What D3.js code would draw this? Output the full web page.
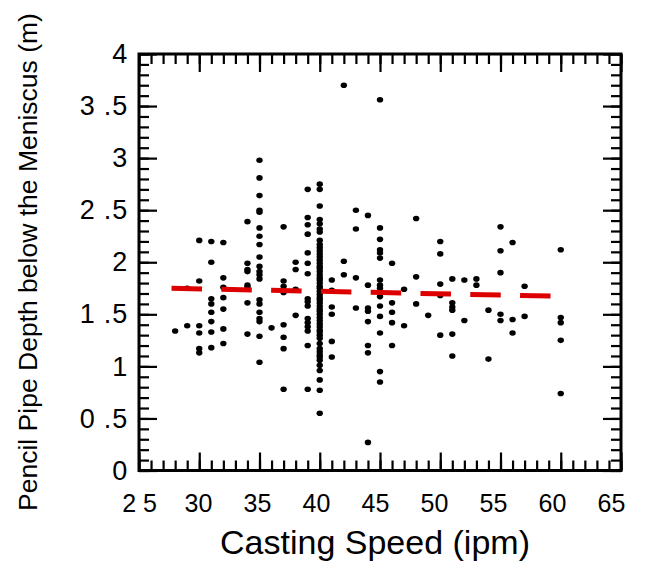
<!DOCTYPE html>
<html>
<head>
<meta charset="utf-8">
<script src="https://cdn.jsdelivr.net/npm/d3@7"></script>
<style>
  body { margin: 0; background: #fff; }
  svg { display: block; font-family: "Liberation Sans", Arial, sans-serif; }
</style>
</head>
<body>
<div class="chart"></div>
<script>
// casting speed (ipm) for each column of points
const speedLevels = [28, 29, 30, 31, 32, 34, 35, 36, 37, 38, 39, 40, 41, 42, 43, 44, 45, 46, 47, 48, 49, 50, 51, 52, 53, 54, 55, 56, 57, 60];

// pencil pipe depth (m) measured at each speed
const depthsBySpeed = [
    [1.34],
    [1.75, 1.39],
    [2.21, 1.82, 1.39, 1.32, 1.17, 1.13],
    [2.20, 2.00, 1.65, 1.60, 1.52, 1.43, 1.33, 1.18],
    [2.19, 1.85, 1.76, 1.66, 1.55, 1.36, 1.22],
    [2.39, 1.99, 1.93, 1.91, 1.78, 1.76, 1.61, 1.31],
    [2.98, 2.81, 2.64, 2.50, 2.48, 2.33, 2.25, 2.17, 2.05, 1.96, 1.91, 1.88, 1.84, 1.64, 1.60, 1.52, 1.46, 1.43, 1.29, 1.04],
    [1.37],
    [2.34, 1.82, 1.77, 1.71, 1.40, 1.28, 1.17, 0.78],
    [2.00, 1.93, 1.74, 1.49],
    [2.70, 2.43, 2.36, 2.27, 2.09, 1.99, 1.89, 1.65, 1.62, 1.58, 1.46, 1.42, 1.38, 1.34, 1.20, 0.78],
    [2.75, 2.70, 2.54, 2.41, 2.37, 2.32, 2.29, 2.21, 2.17, 2.14, 2.11, 2.08, 2.05, 2.02, 1.99, 1.96, 1.94, 1.91, 1.88, 1.85,
     1.83, 1.80, 1.77, 1.75, 1.72, 1.69, 1.66, 1.64, 1.61, 1.58, 1.55, 1.53, 1.50, 1.47, 1.44, 1.41, 1.38, 1.35, 1.33, 1.30,
     1.27, 1.22, 1.17, 1.14, 1.11, 1.09, 1.06, 1.01, 0.96, 0.87, 0.77, 0.55],
    [1.83, 1.73, 1.57, 1.50, 1.24, 1.09],
    [3.70, 2.01, 1.88],
    [2.50, 2.32, 1.85, 1.56],
    [2.45, 1.78, 1.56, 1.53, 1.43, 1.20, 1.13, 0.27],
    [3.56, 2.33, 2.22, 2.12, 2.09, 2.04, 1.83, 1.78, 1.75, 1.67, 1.58, 1.48, 1.32, 0.95, 0.85],
    [1.99, 1.61, 1.52, 1.42, 1.20],
    [1.74, 1.39],
    [2.42, 1.86, 1.60],
    [1.49],
    [2.20, 2.08, 1.79, 1.68, 1.30],
    [1.84, 1.61, 1.57, 1.54, 1.31, 1.10],
    [1.83, 1.44],
    [1.84, 1.78],
    [1.54, 1.07],
    [2.34, 2.11, 1.90, 1.50, 1.44],
    [2.19, 1.45, 1.32],
    [1.77, 1.48],
    [2.12, 1.47, 1.42, 1.25, 0.74]
];

// fitted trend line end points
const trendSpeed = [27.7, 59.3];
const trendDepth = [1.75, 1.675];

const xTicks = [25, 30, 35, 40, 45, 50, 55, 60, 65];
const yTicks = [0, 0.5, 1, 1.5, 2, 2.5, 3, 3.5, 4];
const xMinor = d3.range(25, 66, 1);
const yMinor = d3.range(0, 41, 1).map(d => d / 10);

const width = 655, height = 562;
const plotLeft = 139, plotRight = 621, plotTop = 54, plotBottom = 470.5;

const points = [];
speedLevels.forEach((s, i) => depthsBySpeed[i].forEach(v => points.push({speed: s, depth: v})));

const x = d3.scaleLinear().domain([25, 65]).range([plotLeft, plotRight]);
const y = d3.scaleLinear().domain([0, 4]).range([plotBottom, plotTop]);

const svg = d3.select(".chart")
    .append("svg")
    .attr("width", width)
    .attr("height", height);

// ticks on all four sides, pointing inward
function drawAxis(axis, transform, cls) {
    svg.append("g")
        .attr("class", cls)
        .attr("transform", transform)
        .call(axis)
        .call(g => g.select(".domain").remove())
        .call(g => g.selectAll(".tick line").attr("stroke", "#000").attr("stroke-width", 2.2));
}

drawAxis(d3.axisBottom(x).tickValues(xMinor).tickSize(-10).tickFormat(""), `translate(0,${plotBottom})`, "xminor");
drawAxis(d3.axisTop(x).tickValues(xMinor).tickSize(-10).tickFormat(""), `translate(0,${plotTop})`, "xminor");
drawAxis(d3.axisLeft(y).tickValues(yMinor).tickSize(-10).tickFormat(""), `translate(${plotLeft},0)`, "yminor");
drawAxis(d3.axisRight(y).tickValues(yMinor).tickSize(-10).tickFormat(""), `translate(${plotRight},0)`, "yminor");

drawAxis(d3.axisBottom(x).tickValues(xTicks).tickSize(-18).tickPadding(24)
    .tickFormat(d => d === 25 ? "2 5" : d), `translate(0,${plotBottom})`, "xaxis");
drawAxis(d3.axisTop(x).tickValues(xTicks).tickSize(-18).tickFormat(""), `translate(0,${plotTop})`, "xtop");
drawAxis(d3.axisLeft(y).tickValues(yTicks).tickSize(-18).tickPadding(11)
    .tickFormat(d => d3.format("")(d).replace(".", " .")), `translate(${plotLeft},0)`, "yaxis");
drawAxis(d3.axisRight(y).tickValues(yTicks).tickSize(-18).tickFormat(""), `translate(${plotRight},0)`, "yright");

svg.selectAll(".xaxis text, .yaxis text")
    .attr("font-family", "Liberation Sans, Arial, sans-serif")
    .attr("font-size", 25)
    .attr("fill", "#000");

svg.selectAll(".yaxis text")
    .attr("font-size", 27)
    .attr("letter-spacing", 0.8);

// the original x labels sit a little left of their ticks
svg.selectAll(".xaxis text").attr("dx", d => -(d - 25) * 0.25);

// frame
svg.append("rect")
    .attr("x", plotLeft)
    .attr("y", plotTop)
    .attr("width", plotRight - plotLeft)
    .attr("height", plotBottom - plotTop)
    .attr("fill", "none")
    .attr("stroke", "#000")
    .attr("stroke-width", 3);

// data points
svg.append("g")
    .selectAll("ellipse")
    .data(points)
    .join("ellipse")
    .attr("cx", d => x(d.speed))
    .attr("cy", d => y(d.depth))
    .attr("rx", 3.2)
    .attr("ry", 2.8)
    .attr("fill", "#000");

// trend line
svg.append("path")
    .datum(trendSpeed.map((s, i) => [s, trendDepth[i]]))
    .attr("fill", "none")
    .attr("stroke", "#dd0000")
    .attr("stroke-width", 5)
    .attr("stroke-dasharray", "30.5,19.3")
    .attr("d", d3.line().x(d => x(d[0])).y(d => y(d[1])));

// axis titles
svg.append("text")
    .attr("x", 375)
    .attr("y", 554)
    .attr("text-anchor", "middle")
    .attr("font-size", 34)
    .text("Casting Speed (ipm)");

svg.append("text")
    .attr("transform", "translate(37,262) rotate(-90)")
    .attr("text-anchor", "middle")
    .attr("font-size", 26.5)
    .text("Pencil Pipe Depth below the Meniscus (m)");
</script>
</body>
</html>
